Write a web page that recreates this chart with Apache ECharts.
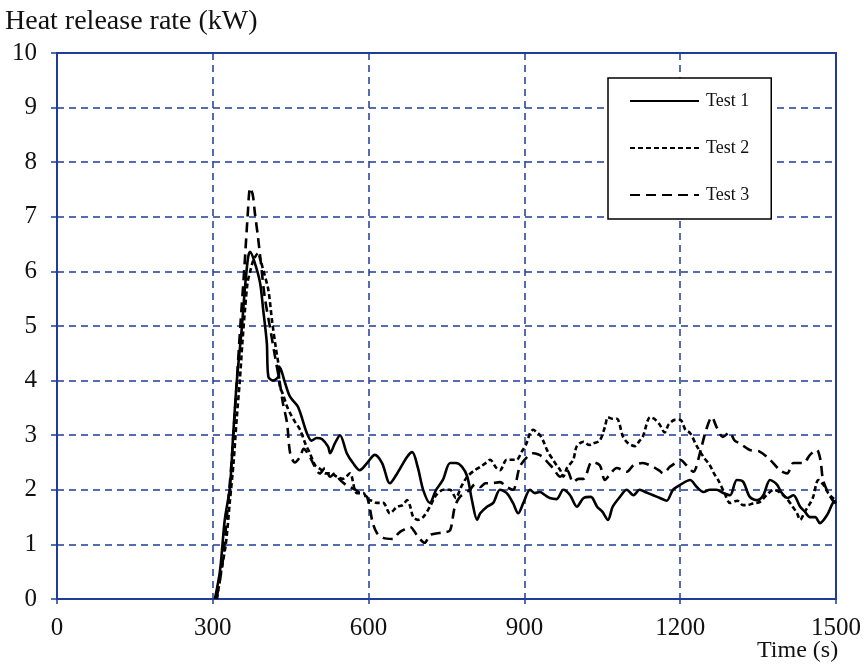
<!DOCTYPE html>
<html>
<head>
<meta charset="utf-8">
<script src="https://cdn.jsdelivr.net/npm/echarts@6/dist/echarts.min.js"></script>
<style>
  html, body { margin: 0; padding: 0; background: #fff; }
  #chart { width: 867px; height: 666px; }
</style>
</head>
<body>
<div id="chart"></div>
<script>
// Heat release rate curves for three repeat tests
const xTicks = [0, 300, 600, 900, 1200, 1500];
const yTicks = [0, 1, 2, 3, 4, 5, 6, 7, 8, 9, 10];

const test1Time = [304, 314, 323, 333, 339, 346, 356, 362, 368, 372, 381, 391, 397, 404, 407, 416, 426, 429, 439, 449, 464, 481, 490, 500, 510, 522, 526, 535, 545, 558, 570, 583, 597, 612, 626, 641, 655, 674, 684, 695, 705, 718, 730, 743, 757, 768, 780, 790, 799, 809, 815, 828, 840, 853, 866, 878, 888, 898, 911, 920, 930, 940, 949, 962, 975, 988, 1001, 1014, 1028, 1040, 1050, 1061, 1070, 1084, 1097, 1110, 1122, 1135, 1148, 1161, 1174, 1186, 1200, 1219, 1232, 1245, 1257, 1270, 1283, 1296, 1309, 1321, 1334, 1348, 1360, 1373, 1386, 1395, 1406, 1418, 1431, 1440, 1450, 1460, 1469, 1483, 1494, 1500];
const test1Hrr = [0, 0.53, 1.45, 2.05, 2.97, 3.96, 4.98, 5.71, 6.26, 6.36, 6.15, 5.79, 5.3, 4.69, 4.07, 4.0, 4.07, 4.25, 3.96, 3.7, 3.52, 3.04, 2.9, 2.95, 2.93, 2.79, 2.67, 2.85, 3.0, 2.67, 2.49, 2.36, 2.49, 2.64, 2.49, 2.12, 2.3, 2.6, 2.69, 2.4, 2.0, 1.76, 2.0, 2.18, 2.49, 2.49, 2.42, 2.24, 1.81, 1.45, 1.57, 1.69, 1.76, 2.0, 1.94, 1.76, 1.57, 1.76, 2.0, 1.94, 1.96, 1.9, 1.85, 1.83, 2.0, 1.9, 1.69, 1.85, 1.87, 1.69, 1.6, 1.45, 1.69, 1.87, 2.0, 1.9, 2.0, 1.95, 1.9, 1.85, 1.8, 2.0, 2.09, 2.18, 2.05, 1.96, 2.0, 2.0, 1.94, 1.9, 2.18, 2.15, 1.87, 1.81, 1.9, 2.18, 2.1, 1.95, 1.85, 1.9, 1.69, 1.6, 1.5, 1.5, 1.39, 1.54, 1.76, 1.8];

const test2Time = [308, 316, 325, 333, 340, 346, 352, 357, 362, 367, 372, 378, 387, 392, 397, 407, 414, 422, 426, 429, 435, 442, 449, 458, 468, 478, 487, 497, 507, 517, 527, 539, 550, 564, 577, 590, 597, 606, 616, 628, 641, 655, 666, 674, 680, 686, 695, 705, 718, 730, 744, 757, 768, 778, 790, 803, 815, 827, 834, 846, 853, 866, 878, 885, 895, 904, 911, 917, 924, 930, 936, 945, 955, 962, 969, 975, 982, 994, 1001, 1014, 1025, 1032, 1045, 1055, 1061, 1070, 1078, 1090, 1100, 1113, 1122, 1128, 1142, 1150, 1160, 1170, 1178, 1190, 1200, 1210, 1219, 1232, 1245, 1257, 1265, 1273, 1285, 1296, 1310, 1321, 1329, 1340, 1354, 1366, 1380, 1392, 1404, 1416, 1425, 1431, 1440, 1450, 1456, 1466, 1475, 1485, 1494, 1500];
const test2Hrr = [0, 0.5, 1.0, 1.8, 2.5, 3.3, 4.0, 4.7, 5.3, 5.8, 6.0, 6.2, 6.33, 6.2, 6.03, 5.66, 5.1, 4.56, 4.32, 3.9, 3.75, 3.55, 3.4, 3.25, 3.1, 2.85, 2.67, 2.45, 2.38, 2.3, 2.3, 2.24, 2.2, 2.3, 1.94, 1.94, 1.83, 1.8, 1.76, 1.76, 1.57, 1.69, 1.72, 1.81, 1.7, 1.5, 1.45, 1.5, 1.69, 1.9, 2.0, 2.0, 1.85, 2.05, 2.24, 2.35, 2.42, 2.5, 2.55, 2.4, 2.36, 2.55, 2.55, 2.55, 2.7, 2.85, 3.04, 3.1, 3.05, 3.0, 2.9, 2.7, 2.55, 2.45, 2.36, 2.24, 2.4, 2.55, 2.8, 2.88, 2.82, 2.85, 2.9, 3.15, 3.33, 3.3, 3.3, 2.97, 2.85, 2.8, 2.9, 2.97, 3.33, 3.3, 3.2, 3.05, 3.2, 3.28, 3.28, 3.1, 3.04, 2.8, 2.6, 2.45, 2.3, 2.18, 1.95, 1.76, 1.8, 1.72, 1.72, 1.75, 1.78, 1.9, 2.0, 1.95, 1.85, 1.7, 1.57, 1.45, 1.6, 1.75, 1.87, 2.18, 2.1, 1.94, 1.85, 1.8];

const test3Time = [307, 318, 327, 336, 345, 353, 361, 367, 372, 377, 381, 387, 394, 400, 410, 420, 429, 435, 443, 449, 458, 468, 475, 487, 495, 506, 516, 526, 535, 545, 555, 564, 575, 583, 592, 597, 603, 608, 616, 628, 647, 657, 666, 680, 693, 708, 718, 730, 745, 757, 766, 776, 795, 805, 815, 825, 834, 853, 866, 878, 891, 905, 917, 926, 936, 945, 955, 969, 982, 994, 1004, 1014, 1030, 1045, 1055, 1066, 1078, 1097, 1110, 1128, 1148, 1160, 1167, 1180, 1192, 1200, 1212, 1225, 1240, 1250, 1261, 1270, 1282, 1295, 1305, 1315, 1334, 1353, 1373, 1392, 1406, 1418, 1437, 1450, 1463, 1470, 1475, 1485, 1494, 1500];
const test3Hrr = [0, 0.6, 1.5, 2.5, 3.8, 5.0, 6.1, 7.0, 7.53, 7.4, 7.07, 6.63, 6.03, 5.53, 4.98, 4.43, 3.96, 3.59, 3.22, 2.67, 2.5, 2.6, 2.75, 2.6, 2.45, 2.3, 2.4, 2.24, 2.3, 2.18, 2.1, 2.05, 2.0, 1.94, 1.9, 1.87, 1.63, 1.39, 1.21, 1.12, 1.1, 1.2, 1.26, 1.32, 1.17, 1.03, 1.17, 1.2, 1.22, 1.26, 1.69, 1.87, 2.0, 2.1, 2.05, 2.12, 2.12, 2.14, 2.05, 2.0, 2.42, 2.6, 2.67, 2.65, 2.6, 2.5, 2.4, 2.24, 2.36, 2.14, 2.2, 2.2, 2.51, 2.45, 2.18, 2.3, 2.4, 2.33, 2.45, 2.49, 2.42, 2.35, 2.3, 2.42, 2.5, 2.55, 2.45, 2.33, 2.75, 3.1, 3.33, 3.15, 2.97, 3.05, 2.9, 2.85, 2.73, 2.7, 2.55, 2.36, 2.3, 2.49, 2.49, 2.64, 2.73, 2.55, 2.18, 1.94, 1.8, 1.75];

const seriesNames = ['Test 1', 'Test 2', 'Test 3'];

const pair = (ts, vs) => ts.map((t, i) => [t, vs[i]]);

const BLUE = '#1f3c98';
const SERIF = '"Liberation Serif", "DejaVu Serif", serif';

const chart = echarts.init(document.getElementById('chart'), null, { renderer: 'canvas' });

const gridDash = { color: BLUE, width: 1.5, type: [7, 5] };

chart.setOption({
  animation: false,
  backgroundColor: '#fff',
  grid: {
    left: 57, right: 31, top: 53, bottom: 67,
    show: true, borderColor: BLUE, borderWidth: 2, backgroundColor: 'transparent'
  },
  xAxis: {
    type: 'value',
    min: xTicks[0], max: xTicks[xTicks.length - 1], interval: 300,
    axisLine: { show: true, lineStyle: { color: BLUE, width: 2 } },
    axisTick: { show: true, inside: false, length: 5, lineStyle: { color: BLUE, width: 1.5 } },
    axisLabel: { color: '#111', fontFamily: SERIF, fontSize: 25, margin: 17, formatter: v => String(v) },
    splitLine: { show: true, lineStyle: gridDash }
  },
  yAxis: {
    type: 'value',
    min: yTicks[0], max: yTicks[yTicks.length - 1], interval: 1,
    axisLine: { show: true, lineStyle: { color: BLUE, width: 2 } },
    axisTick: { show: true, inside: false, length: 6, lineStyle: { color: BLUE, width: 1.5 } },
    axisLabel: { color: '#111', fontFamily: SERIF, fontSize: 25, margin: 20, formatter: v => String(v) },
    splitLine: { show: true, lineStyle: gridDash }
  },
  legend: {
    data: seriesNames,
    orient: 'vertical',
    left: 608, top: 78,
    padding: [14, 22, 15, 21],
    itemWidth: 69, itemHeight: 14, itemGap: 29,
    borderColor: '#000', borderWidth: 1.5,
    backgroundColor: '#fff',
    itemStyle: { opacity: 0 },
    textStyle: { color: '#111', fontFamily: SERIF, fontSize: 18, padding: [0, 0, 0, 2] }
  },
  graphic: [
    { type: 'text', left: 5, top: 8, style: { text: 'Heat release rate (kW)', font: '28px ' + SERIF, fill: '#111' } },
    { type: 'text', left: 757, top: 639, style: { text: 'Time (s)', font: '24px ' + SERIF, fill: '#111' } }
  ],
  series: [
    {
      name: seriesNames[0], type: 'line', data: pair(test1Time, test1Hrr),
      symbol: 'none', smooth: 0.3,
      lineStyle: { color: '#000', width: 2.6, type: 'solid' },
      itemStyle: { color: '#000' }
    },
    {
      name: seriesNames[1], type: 'line', data: pair(test2Time, test2Hrr),
      symbol: 'none', smooth: 0.3,
      lineStyle: { color: '#000', width: 2.6, type: [5, 3] },
      itemStyle: { color: '#000' }
    },
    {
      name: seriesNames[2], type: 'line', data: pair(test3Time, test3Hrr),
      symbol: 'none', smooth: 0.3,
      lineStyle: { color: '#000', width: 2.6, type: [10, 6] },
      itemStyle: { color: '#000' }
    }
  ]
});
</script>
</body>
</html>
